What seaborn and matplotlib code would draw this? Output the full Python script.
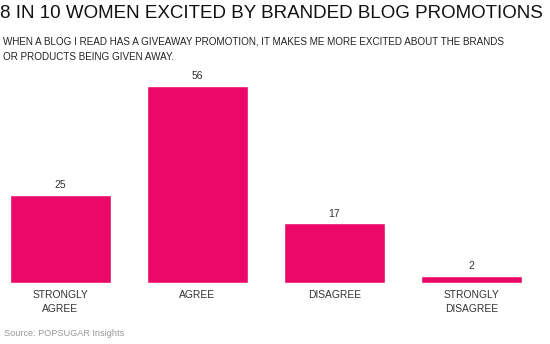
import matplotlib
matplotlib.use("Agg")
import matplotlib.pyplot as plt
import seaborn as sns
import pandas as pd

categories = ["STRONGLY\nAGREE", "AGREE", "DISAGREE", "STRONGLY\nDISAGREE"]
values = [25, 56, 17, 2]

title = "8 IN 10 WOMEN EXCITED BY BRANDED BLOG PROMOTIONS"
subtitle = ("WHEN A BLOG I READ HAS A GIVEAWAY PROMOTION, IT MAKES ME MORE EXCITED ABOUT THE BRANDS\n"
            "OR PRODUCTS BEING GIVEN AWAY.")
source = "Source: POPSUGAR Insights"

sns.set_theme(style="white")
plt.rcParams["font.family"] = ["Liberation Sans", "DejaVu Sans"]

df = pd.DataFrame({"category": categories, "value": values})

W, H = 550, 344
fig = plt.figure(figsize=(W / 100, H / 100), dpi=100)
base_y = 283
ax = fig.add_axes([0, (H - base_y) / H, 1, base_y / H])

sns.barplot(data=df, x="category", y="value", color="#EC0868", width=0.74,
            saturation=1, ax=ax)

# horizontal scale: bar centres about 137 px apart, first at x=60
spacing = 137.0
c0 = 60.5
ax.set_xlim(-c0 / spacing, (W - c0) / spacing)
px_per_unit = (283 - 86) / 56.0
ax.set_ylim(0, base_y / px_per_unit)

for i, v in enumerate(values):
    ax.text(i, v + 1.3, str(v), ha="center", va="bottom", fontsize=7.5, color="#333333")

ax.set_xlabel("")
ax.set_ylabel("")
ax.set_xticks([])
ax.set_yticks([])
for s in ax.spines.values():
    s.set_visible(False)

# category labels below the baseline
for i, c in enumerate(categories):
    ax.text(i, -1.9, c, ha="center", va="top", fontsize=7.4, color="#333333",
            linespacing=1.5)

fig.text(0 / W, 1 - 5 / H, title, ha="left", va="top", fontsize=13.5, color="#111111")
fig.text(3 / W, 1 - 36 / H, subtitle, ha="left", va="top", fontsize=7.1, color="#222222",
         linespacing=1.75)
fig.text(4 / W, 1 - 329 / H, source, ha="left", va="top", fontsize=6.6, color="#999999")

fig.savefig("out.png", dpi=100)
